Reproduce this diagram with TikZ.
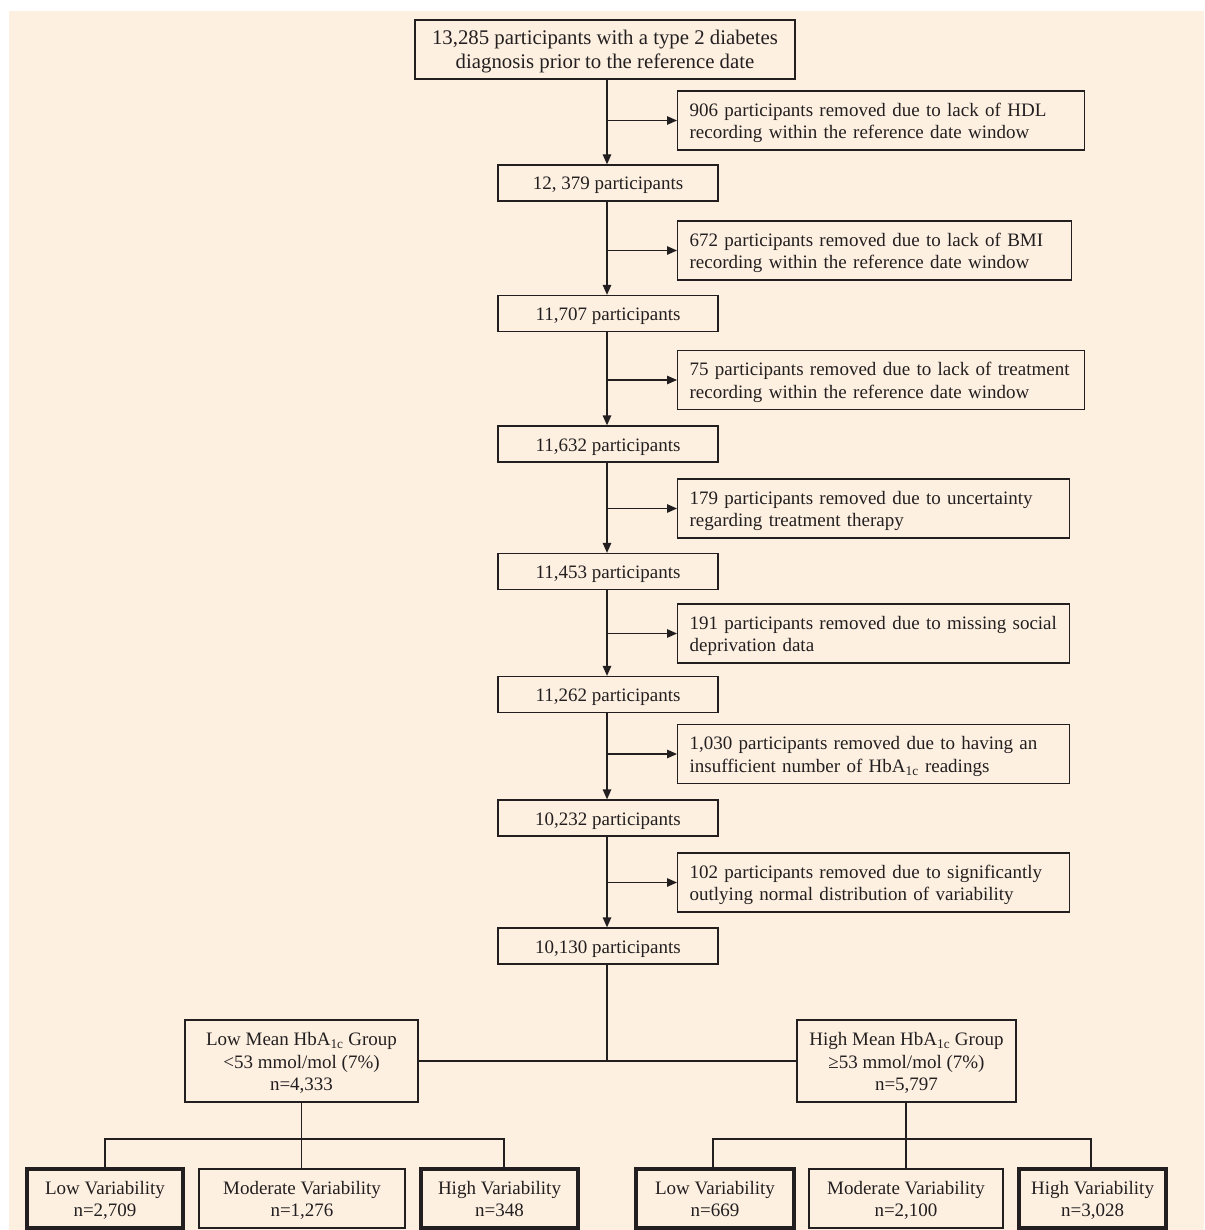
\documentclass[tikz,border=0pt]{standalone}
\usepackage{fontspec}
\setmainfont{Liberation Serif}
\usetikzlibrary{arrows.meta}
\definecolor{bgc}{RGB}{253,240,225}
\definecolor{ln}{RGB}{35,31,32}
\newcommand\mystrut{\rule[-4.25pt]{0pt}{22.5pt}}
\newcommand\brk{\mystrut\\\mystrut}
\newcommand\hba{HbA\textsubscript{1c}}
\begin{document}
\begin{tikzpicture}[x=1pt,y=-1pt,
  font=\fontsize{19}{22.5}\selectfont,
  box/.style={draw=ln, line width=1.3pt, text=ln, inner sep=0pt, align=center,
    execute at begin node=\mystrut, execute at end node=\mystrut},
  mainbox/.style={box, minimum width=220pt, minimum height=36pt},
  sidebox/.style={box, align=left, inner xsep=12pt, anchor=west, minimum height=59pt},
  grpbox/.style={box, minimum height=82pt},
  varbox/.style={box, minimum height=59pt},
  boldbox/.style={varbox, line width=3.5pt},
  conn/.style={draw=ln, line width=1.3pt},
  arr/.style={conn, -{Triangle[length=10pt,width=8.5pt]}}]
\useasboundingbox (0,0) rectangle (1204,1230);
\fill[bgc] (9,11) rectangle (1204,1230);

% main column
\node[box, minimum width=380pt, minimum height=59pt, font=\fontsize{20.8}{22.5}\selectfont] (top) at (605,49.5)
  {13,285 participants with a type 2 diabetes\brk diagnosis prior to the reference date};
\node[mainbox] (m1) at (608,183) {12, 379 participants};
\node[mainbox] (m2) at (608,313.5) {11,707 participants};
\node[mainbox] (m3) at (608,444) {11,632 participants};
\node[mainbox] (m4) at (608,571.5) {11,453 participants};
\node[mainbox] (m5) at (608,694.5) {11,262 participants};
\node[mainbox] (m6) at (608,818) {10,232 participants};
\node[mainbox] (m7) at (608,946) {10,130 participants};

% side boxes
\node[sidebox, text width=383pt] (s1) at (677,120.5)
  {906 participants removed due to lack of HDL\brk recording within the reference date window};
\node[sidebox, text width=370pt] (s2) at (677,250.5)
  {672 participants removed due to lack of BMI\brk recording within the reference date window};
\node[sidebox, text width=383pt] (s3) at (677,380)
  {75 participants removed due to lack of treatment\brk recording within the reference date window};
\node[sidebox, text width=368pt] (s4) at (677,508.5)
  {179 participants removed due to uncertainty\brk regarding treatment therapy};
\node[sidebox, text width=368pt] (s5) at (677,633.5)
  {191 participants removed due to missing social\brk deprivation data};
\node[sidebox, text width=368pt] (s6) at (677,754)
  {1,030 participants removed due to having an\brk insufficient number of \hba{} readings};
\node[sidebox, text width=368pt] (s7) at (677,882.5)
  {102 participants removed due to significantly\brk outlying normal distribution of variability};

% vertical arrows
\coordinate (vx) at (607,0);
\draw[arr] (top.south -| vx) -- (m1.north -| vx);
\draw[arr] (m1.south -| vx) -- (m2.north -| vx);
\draw[arr] (m2.south -| vx) -- (m3.north -| vx);
\draw[arr] (m3.south -| vx) -- (m4.north -| vx);
\draw[arr] (m4.south -| vx) -- (m5.north -| vx);
\draw[arr] (m5.south -| vx) -- (m6.north -| vx);
\draw[arr] (m6.south -| vx) -- (m7.north -| vx);

% side arrows
\foreach \s in {s1,s2,s3,s4,s5,s6,s7}
  \draw[arr] (\s.west -| vx) -- (\s.west);

% groups
\node[grpbox, minimum width=233pt] (lowg) at (301.5,1061)
  {Low Mean \hba{} Group\brk <53 mmol/mol (7\%)\brk n=4,333};
\node[grpbox, minimum width=219pt] (highg) at (906.5,1061)
  {High Mean \hba{} Group\brk ≥53 mmol/mol (7\%)\brk n=5,797};
\draw[conn] (lowg.east) -- (highg.west);
\draw[conn] (m7.south -| vx) -- (lowg.east -| vx);

% variability boxes
\node[boldbox, minimum width=156pt] (L1) at (105,1198.5) {Low Variability\brk n=2,709};
\node[varbox, minimum width=206pt] (L2) at (302,1198.5) {Moderate Variability\brk n=1,276};
\node[boldbox, minimum width=157pt] (L3) at (499.5,1198.5) {High Variability\brk n=348};
\node[boldbox, minimum width=158pt] (R1) at (715,1198.5) {Low Variability\brk n=669};
\node[varbox, minimum width=194pt] (R2) at (906,1198.5) {Moderate Variability\brk n=2,100};
\node[boldbox, minimum width=147pt] (R3) at (1092.5,1198.5) {High Variability\brk n=3,028};

\coordinate (lj) at (301.5,1139);
\coordinate (rj) at (906,1139);
\draw[conn] (lowg.south) -- (lj);
\draw[conn] (L1.north) -- (L1.north |- lj) -- ([xshift=4.5pt]L3.north |- lj) -- ([xshift=4.5pt]L3.north);
\draw[conn] (lj) -- (L2.north -| lj);
\draw[conn] (highg.south -| rj) -- (rj);
\draw[conn] ([xshift=-2pt]R1.north) -- ([xshift=-2pt]R1.north |- rj) -- ([xshift=-1.5pt]R3.north |- rj) -- ([xshift=-1.5pt]R3.north);
\draw[conn] (rj) -- (R2.north -| rj);
\end{tikzpicture}
\end{document}
